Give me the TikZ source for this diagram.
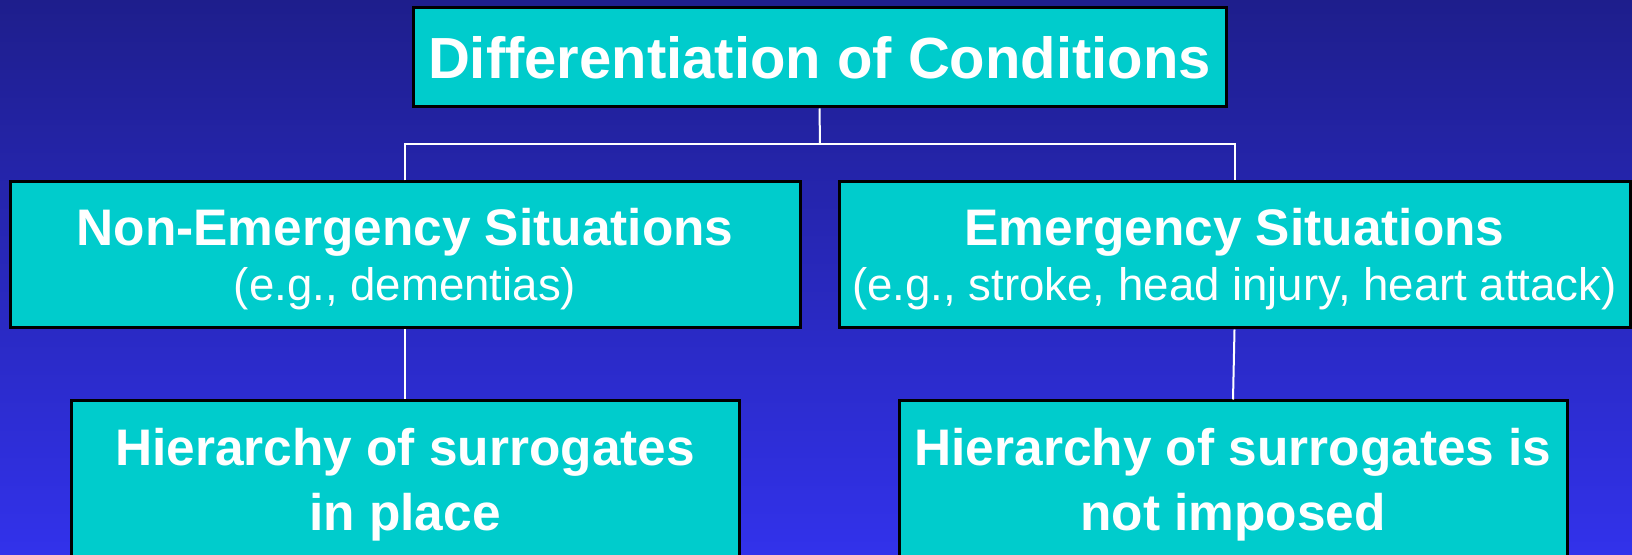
\documentclass[tikz,border=0pt]{standalone}
\usepackage{fontspec}
\setmainfont{Liberation Sans}
\usetikzlibrary{positioning}

\definecolor{bgtop}{RGB}{30,30,140}
\definecolor{bgbottom}{RGB}{50,50,235}
\definecolor{boxcyan}{RGB}{0,204,204}

\tikzset{
  box/.style={draw=black,line width=1.5pt,fill=boxcyan,text=white,align=center,inner sep=0pt,
              font=\fontsize{25.7}{29.5}\selectfont\bfseries},
  link/.style={draw=white,line width=1pt}
}
\newcommand{\egline}[1]{{\fontsize{22.8}{28}\selectfont\mdseries #1}}
\newcommand{\toppad}{\rule{0pt}{23.2pt}}
\newcommand{\botpad}{\rule[-11.6pt]{0pt}{0pt}}

\begin{document}
\begin{tikzpicture}[x=0.5pt,y=0.5pt]
  \useasboundingbox (0,0) rectangle (1632,-555);
  \shade[top color=bgtop,bottom color=bgbottom] (0,0) rectangle (1632,-555);
  \clip (0,0) rectangle (1632,-555);

  \node[box,minimum width=406.5pt,minimum height=49.5pt,font=\fontsize{29}{33}\selectfont\bfseries]
       (diff) at (819.5,-57.5) {Differentiation of Conditions};
  \node[box,minimum width=395pt,minimum height=73pt] (nonemerg) at (405,-255)
       {\toppad Non-Emergency Situations\\[-2pt]\egline{(e.g., dementias)}};
  \node[box,minimum width=395.5pt,minimum height=73pt] (emerg) at (1234.5,-255)
       {\toppad Emergency Situations\\[-2pt]\egline{(e.g., stroke, head injury, heart attack)}};
  \node[box,minimum width=334pt,minimum height=89.5pt] (inplace) at (405,-490.5)
       {Hierarchy of surrogates\\[3pt]in place\botpad};
  \node[box,minimum width=334pt,minimum height=89.5pt] (notimposed) at (1233,-490.5)
       {Hierarchy of surrogates is\\[3pt]not imposed\botpad};

  \coordinate (fork) at (820,-144);
  \draw[link] (diff.south) -- (fork);
  \draw[link] (nonemerg.north) |- (fork) -| (emerg.north);
  \draw[link] (nonemerg.south) -- (inplace.north);
  \draw[link] (emerg.south) -- (notimposed.north);
\end{tikzpicture}
\end{document}
